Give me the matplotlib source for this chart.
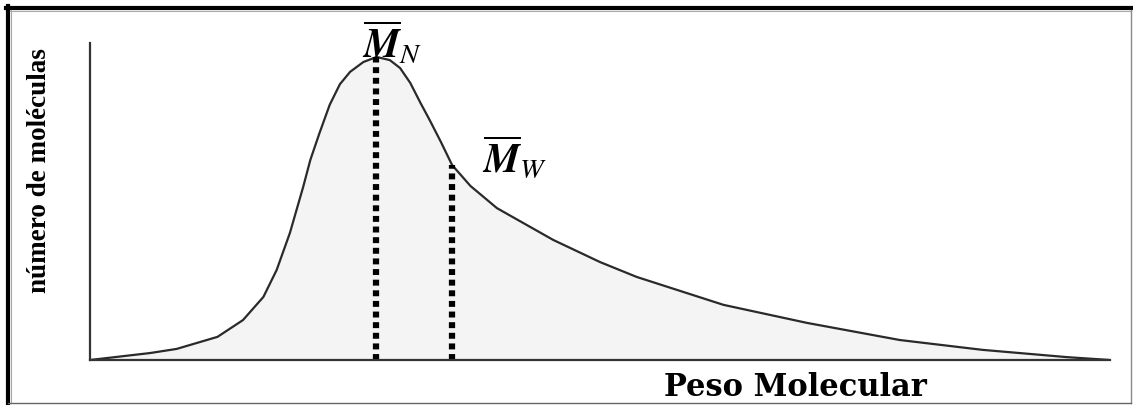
import numpy as np
import matplotlib
matplotlib.use('Agg')
import matplotlib.pyplot as plt
from matplotlib.lines import Line2D

plt.rcParams['font.family'] = ['Liberation Serif', 'DejaVu Serif']
plt.rcParams['mathtext.fontset'] = 'stix'

# molecular weight distribution (arbitrary units)
peso = [0, 5.9, 8.5, 12.5, 15.0, 17.0, 18.3, 19.6, 20.9, 21.6, 22.5, 23.5, 24.5,
        25.5, 26.8, 28.1, 29.4, 30.4, 31.4, 32.4, 33.3, 34.4, 35.5, 37.3, 39.9,
        45.4, 50.0, 53.6, 62.1, 70.3, 79.4, 87.5, 95.8, 100]
moleculas = [0, 2.2, 3.5, 7.3, 12.6, 19.9, 28.4, 40.1, 54.6, 63.1, 71.6, 80.5, 87.0,
             90.9, 94.0, 95.6, 94.6, 92.1, 87.4, 81.1, 75.7, 68.8, 61.5, 54.9, 47.9,
             37.9, 30.9, 26.2, 17.4, 11.7, 6.3, 3.2, 0.9, 0]

mn_x, mn_y = 28.0, 95.6
mw_x, mw_y = 35.5, 61.5

W, H = 1133, 405
fig = plt.figure(figsize=(W / 100, H / 100), dpi=100)
ax = fig.add_axes([90 / W, 45 / H, 1020 / W, 317 / H])

ax.fill_between(peso, moleculas, 0, color='#f4f4f4', lw=0)
ax.plot(peso, moleculas, color='#2a2a2a', lw=1.6, solid_joinstyle='round')

# number- and weight-average markers
for xv, yv in [(mn_x, mn_y), (mw_x, mw_y)]:
    ax.plot([xv, xv], [0, yv], color='black', lw=4.5, dashes=(0.95, 0.75),
            dash_capstyle='butt', solid_capstyle='butt')

ax.text(26.7, 95.3, r'$\overline{\mathbfit{M}}_{N}$', fontsize=29,
        ha='left', va='baseline', clip_on=False)
ax.text(38.4, 59.2, r'$\overline{\mathbfit{M}}_{W}$', fontsize=29,
        ha='left', va='baseline', clip_on=False)

ax.set_xlim(0, 100)
ax.set_ylim(0, 100)
ax.spines[['top', 'right']].set_visible(False)
for s in ['left', 'bottom']:
    ax.spines[s].set_color('#333333')
    ax.spines[s].set_linewidth(1.6)
ax.set_xticks([])
ax.set_yticks([])
ax.patch.set_alpha(0)

fig.text(40 / W, 1 - 171 / H, 'número de moléculas', rotation=90,
         fontsize=19.5, fontweight='bold', ha='center', va='center')
fig.text(795 / W, 1 - 387 / H, 'Peso Molecular', fontsize=22,
         fontweight='bold', family='DejaVu Serif', ha='center', va='center')

# page frame: heavy top/left, thin grey right/bottom
def px(x, y):
    return x / W, 1 - y / H

fig.add_artist(Line2D(*zip(px(6, 7.5), px(W, 7.5)), color='black', lw=3))
fig.add_artist(Line2D(*zip(px(8, 6), px(8, H)), color='black', lw=3))
fig.add_artist(Line2D(*zip(px(10, 10.5), px(1131, 10.5)), color='#aaaaaa', lw=0.8))
fig.add_artist(Line2D(*zip(px(11, 10), px(11, 403)), color='#aaaaaa', lw=0.8))
fig.add_artist(Line2D(*zip(px(1131, 10), px(1131, 403)), color='#888888', lw=1))
fig.add_artist(Line2D(*zip(px(8, 403), px(1131, 403)), color='#666666', lw=1))

fig.savefig('out.png', dpi=100)
